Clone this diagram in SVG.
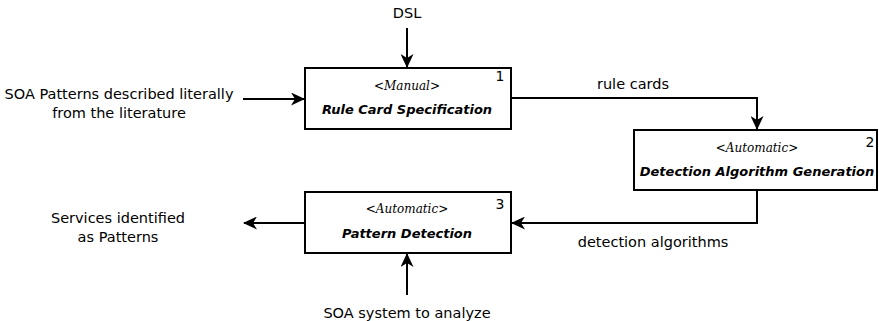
<svg xmlns="http://www.w3.org/2000/svg" width="879" height="321" viewBox="0 0 879 321">
<style>
.box{fill:#fff;stroke:#000;stroke-width:2}
.lbl{font-family:"DejaVu Sans",sans-serif;font-size:14.5px;fill:#000;text-anchor:middle}
.st{font-family:"DejaVu Serif",serif;font-style:italic;font-size:12px;fill:#000;text-anchor:middle}
.tt{font-family:"DejaVu Sans",sans-serif;font-style:oblique;font-weight:bold;font-size:13px;fill:#000;text-anchor:middle}
.num{font-family:"DejaVu Sans",sans-serif;font-size:14px;fill:#000;text-anchor:middle}
.c{fill:none;stroke:#000;stroke-width:2}
</style>
<defs>
<marker id="ah" viewBox="0 0 14 13" refX="13" refY="6.5" markerWidth="14" markerHeight="13" markerUnits="userSpaceOnUse" orient="auto">
<path d="M0,0 L14,6.5 L0,13 L4,6.5 Z" fill="#000"/>
</marker>
</defs>
<g id="connectors">
<path class="c" d="M407,28 V67" marker-end="url(#ah)"/>
<path class="c" d="M243,99 H304" marker-end="url(#ah)"/>
<path class="c" d="M511,98 H757 V129" marker-end="url(#ah)"/>
<path class="c" d="M757,190 V223 H512" marker-end="url(#ah)"/>
<path class="c" d="M305,223 H244" marker-end="url(#ah)"/>
<path class="c" d="M407,295 V254" marker-end="url(#ah)"/>
</g>
<g id="node1">
<rect class="box" x="305" y="68" width="206" height="61"/>
<text class="st" x="407" y="90">&lt;Manual&gt;</text>
<text class="tt" x="407" y="114">Rule Card Specification</text>
<text class="num" x="500" y="81">1</text>
</g>
<g id="node2">
<rect class="box" x="634" y="130" width="243" height="60"/>
<text class="st" x="757" y="152">&lt;Automatic&gt;</text>
<text class="tt" x="757" y="176">Detection Algorithm Generation</text>
<text class="num" x="870" y="147">2</text>
</g>
<g id="node3">
<rect class="box" x="305" y="192" width="206" height="61"/>
<text class="st" x="407" y="213">&lt;Automatic&gt;</text>
<text class="tt" x="407" y="238">Pattern Detection</text>
<text class="num" x="500" y="209">3</text>
</g>
<g id="labels">
<text class="lbl" x="407" y="18">DSL</text>
<text class="lbl" x="119" y="99">SOA Patterns described literally</text>
<text class="lbl" x="119" y="118">from the literature</text>
<text class="lbl" x="633" y="89">rule cards</text>
<text class="lbl" x="653" y="247">detection algorithms</text>
<text class="lbl" x="118" y="223">Services identified</text>
<text class="lbl" x="118" y="242">as Patterns</text>
<text class="lbl" x="407" y="318">SOA system to analyze</text>
</g>
</svg>
